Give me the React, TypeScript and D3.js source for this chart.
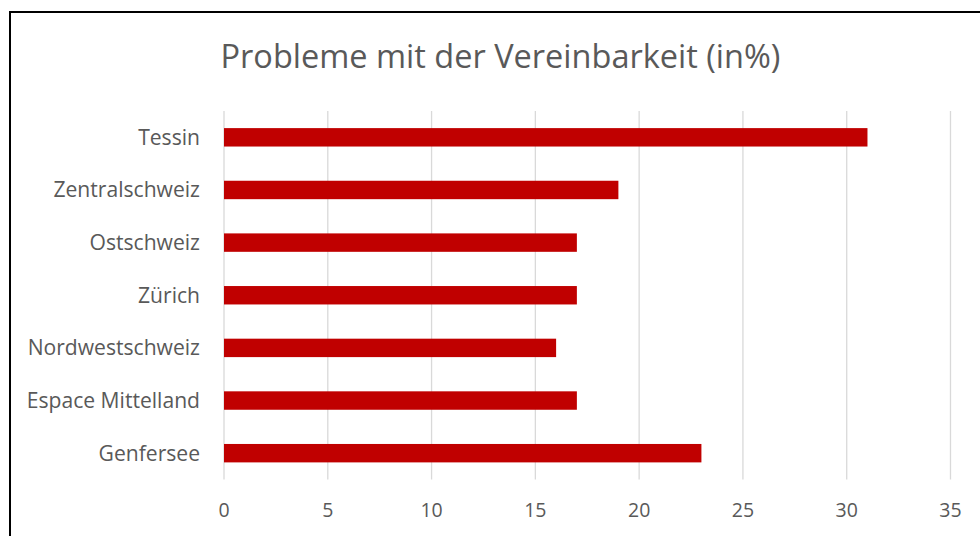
import React from "react";
import * as d3 from "d3";

const regions = ["Tessin", "Zentralschweiz", "Ostschweiz", "Zürich", "Nordwestschweiz", "Espace Mittelland", "Genfersee"];
const values = [31, 19, 17, 17, 16, 17, 23];
const xTicks = [0, 5, 10, 15, 20, 25, 30, 35];
const title = "Probleme mit der Vereinbarkeit (in%)";

const width = 980;
const height = 536;
const font = "'Open Sans', 'Noto Sans', sans-serif";
const textColor = "#595959";

export default function App() {
	const x = d3.scaleLinear().domain([0, 35]).range([224, 950.5]);
	const y = d3.scaleBand().domain(regions).range([111, 479.5]).paddingInner(0.65).paddingOuter(0.325);

	return (
		<svg width={width} height={height} style={{ position: "absolute", left: 0, top: 0, background: "#fff" }}>
			<rect x={10} y={12} width={1000} height={600} fill="#fff" stroke="#000" strokeWidth={2} />
			<text x={500.5} y={68} textAnchor="middle" fontFamily={font} fontSize={32.5} fill={textColor}>
				{title}
			</text>
			{xTicks.map((t) => (
				<g key={t}>
					<line x1={x(t)} x2={x(t)} y1={111} y2={479.5} stroke="#d9d9d9" strokeWidth={1.3} />
					<text x={x(t)} y={517} textAnchor="middle" fontFamily={font} fontSize={19.5} fill={textColor}>
						{t}
					</text>
				</g>
			))}
			{regions.map((r, i) => (
				<g key={r}>
					<rect x={x(0)} y={y(r)} width={x(values[i]) - x(0)} height={y.bandwidth()} fill="#c00000" />
					<text
						x={200}
						y={(y(r) as number) + y.bandwidth() / 2}
						dy="0.35em"
						textAnchor="end"
						fontFamily={font}
						fontSize={21.1}
						fill={textColor}
					>
						{r}
					</text>
				</g>
			))}
		</svg>
	);
}
